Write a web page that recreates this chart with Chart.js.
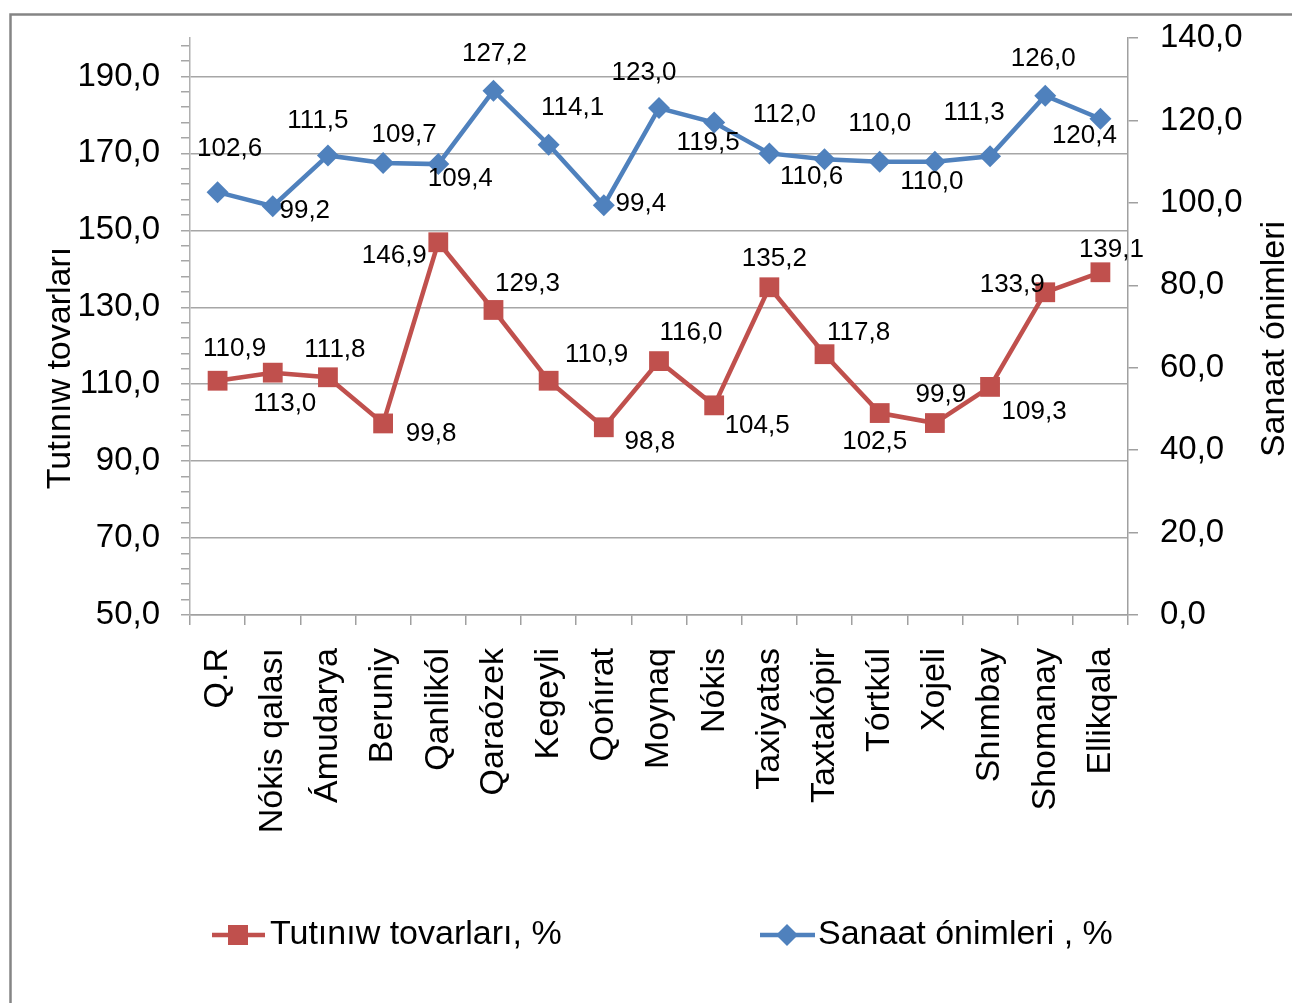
<!DOCTYPE html>
<html>
<head>
<meta charset="utf-8">
<script src="https://cdn.jsdelivr.net/npm/chart.js@4.4.1/dist/chart.umd.min.js"></script>
<style>
  html, body { margin: 0; padding: 0; background: #fff; }
</style>
</head>
<body>
<canvas id="chart" width="1292" height="1003"></canvas>
<script>
// -------------------- DATA --------------------
const districts = ['Q.R', 'Nókis qalası', 'Ámudarya', 'Beruniy', 'Qanlikól', 'Qaraózek', 'Kegeyli',
    'Qońırat', 'Moynaq', 'Nókis', 'Taxiyatas', 'Taxtakópir', 'Tórtkúl', 'Xojeli', 'Shımbay',
    'Shomanay', 'Ellikqala'];
const tobaccoGoods = [110.9, 113.0, 111.8, 99.8, 146.9, 129.3, 110.9, 98.8, 116.0, 104.5,
    135.2, 117.8, 102.5, 99.9, 109.3, 133.9, 139.1];
const industryGoods = [102.6, 99.2, 111.5, 109.7, 109.4, 127.2, 114.1, 99.4, 123.0, 119.5,
    112.0, 110.6, 110.0, 110.0, 111.3, 126.0, 120.4];
const leftMajorTicks = [50, 70, 90, 110, 130, 150, 170, 190];
const leftMinorStep = 4;
const rightTicks = [0, 20, 40, 60, 80, 100, 120, 140];

const tobaccoName = 'Tutınıw tovarları, %';
const industryName = 'Sanaat ónimleri , %';
const leftTitle = 'Tutınıw tovarları';
const rightTitle = 'Sanaat ónimleri';

// label offsets from each point (px)
const tobaccoLabelOffsets = [[17, -32], [12, 31], [7, -27], [48, 10], [-44, 14], [34, -26], [48, -26],
    [46, 15], [32, -28], [43, 20], [5, -28], [34, -21], [-5, 29], [6, -28], [44, 25], [-33, -7], [11, -22]];
const industryLabelOffsets = [[12, -43], [32, 5], [-10, -35], [21, -28], [22, 15], [1, -37], [24, -37],
    [37, -2], [-15, -35], [-6, 20], [15, -39], [-13, 18], [0, -38], [-3, 20], [-16, -43], [-2, -37], [-16, 17]];

const RED = '#C0504D';
const BLUE = '#4F81BD';
const FONT = '"Liberation Sans", Arial, sans-serif';

const fmt = v => v.toFixed(1).replace('.', ',');

Chart.defaults.font.family = FONT;
Chart.defaults.color = '#000';


// -------------------- PLUGIN: frame, labels, titles, legend --------------------
const decor = {
    id: 'decor',
    beforeDraw(chart) {
        const ctx = chart.ctx;
        ctx.save();
        ctx.fillStyle = '#fff';
        ctx.fillRect(0, 0, chart.width, chart.height);
        ctx.strokeStyle = '#858585';
        ctx.lineWidth = 2.5;
        ctx.strokeRect(10.5, 14.5, 1400, 1100);
        ctx.restore();
    },
    afterDatasetsDraw(chart) {
        const ctx = chart.ctx;
        const offsets = [tobaccoLabelOffsets, industryLabelOffsets];
        ctx.save();
        ctx.font = '26px ' + FONT;
        ctx.fillStyle = '#000';
        ctx.textAlign = 'center';
        ctx.textBaseline = 'middle';
        chart.data.datasets.forEach((ds, di) => {
            chart.getDatasetMeta(di).data.forEach((pt, i) => {
                const o = offsets[di][i];
                ctx.fillText(fmt(ds.data[i]), pt.x + o[0], pt.y + o[1]);
            });
        });
        ctx.restore();
    },
    afterDraw(chart) {
        const ctx = chart.ctx;
        ctx.save();
        // axis titles
        ctx.font = '34px ' + FONT;
        ctx.fillStyle = '#000';
        ctx.textAlign = 'center';
        ctx.textBaseline = 'alphabetic';
        ctx.save();
        ctx.translate(70, 368);
        ctx.rotate(-Math.PI / 2);
        ctx.fillText(leftTitle, 0, 0);
        ctx.restore();
        ctx.save();
        ctx.translate(1284, 339);
        ctx.rotate(-Math.PI / 2);
        ctx.fillText(rightTitle, 0, 0);
        ctx.restore();

        // legend
        const ly = 935;
        ctx.lineWidth = 4.5;
        ctx.strokeStyle = RED;
        ctx.beginPath(); ctx.moveTo(212, ly); ctx.lineTo(265, ly); ctx.stroke();
        ctx.fillStyle = RED;
        ctx.fillRect(228, ly - 10, 20, 20);
        ctx.strokeStyle = BLUE;
        ctx.beginPath(); ctx.moveTo(760, ly); ctx.lineTo(815, ly); ctx.stroke();
        ctx.fillStyle = BLUE;
        ctx.beginPath();
        ctx.moveTo(787, ly - 11); ctx.lineTo(798, ly); ctx.lineTo(787, ly + 11); ctx.lineTo(776, ly);
        ctx.closePath(); ctx.fill();
        ctx.fillStyle = '#000';
        ctx.textAlign = 'left';
        ctx.textBaseline = 'middle';
        ctx.font = '34px ' + FONT;
        ctx.fillText(tobaccoName, 270, ly);
        ctx.fillText(industryName, 818, ly);
        ctx.restore();
    }
};

// keep the plot area where the layout padding puts it
const noVPad = s => { s.paddingTop = 0; s.paddingBottom = 0; };


// -------------------- CHART --------------------
new Chart(document.getElementById('chart'), {
    type: 'line',
    data: {
        labels: districts,
        datasets: [{
            label: tobaccoName,
            data: tobaccoGoods,
            yAxisID: 'y',
            borderColor: RED,
            backgroundColor: RED,
            borderWidth: 4.5,
            pointStyle: 'rect',
            pointRadius: 14,
            pointBorderWidth: 0,
            pointBackgroundColor: RED,
            tension: 0
        }, {
            label: industryName,
            data: industryGoods,
            yAxisID: 'y1',
            borderColor: BLUE,
            backgroundColor: BLUE,
            borderWidth: 4.5,
            pointStyle: 'rectRot',
            pointRadius: 11,
            pointBorderWidth: 0,
            pointBackgroundColor: BLUE,
            tension: 0
        }]
    },
    options: {
        responsive: false,
        animation: false,
        devicePixelRatio: 1,
        layout: { padding: { top: 38, left: 0, right: 0, bottom: 0 } },
        plugins: {
            legend: { display: false },
            tooltip: { enabled: false }
        },
        scales: {
            x: {
                offset: true,
                grid: { offset: true, drawOnChartArea: false, color: '#a0a0a0', tickLength: 10, lineWidth: 1.5 },
                border: { color: '#a0a0a0', width: 1.5 },
                ticks: {
                    font: { size: 34 },
                    minRotation: 90, maxRotation: 90,
                    autoSkip: false,
                    padding: 23
                },
                afterFit: s => { s.height = 388; s.paddingLeft = 0; s.paddingRight = 0; }
            },
            y: {
                position: 'left',
                min: 50,
                max: 200,
                afterBuildTicks: s => {
                    const t = [];
                    for (let v = leftMajorTicks[0]; v < 200; v += leftMinorStep) t.push({ value: v });
                    s.ticks = t;
                },
                grid: {
                    color: c => leftMajorTicks.includes(c.tick.value) ? '#a6a6a6' : 'rgba(0,0,0,0)',
                    tickColor: '#a6a6a6',
                    tickLength: 9,
                    lineWidth: 1.5
                },
                border: { color: '#b0b0b0', width: 1.5 },
                ticks: {
                    font: { size: 33 },
                    padding: 21,
                    autoSkip: false,
                    callback: v => leftMajorTicks.includes(v) ? fmt(v) : ''
                },
                afterFit: s => { s.width = 190; noVPad(s); }
            },
            y1: {
                position: 'right',
                min: 0,
                max: 140,
                afterBuildTicks: s => { s.ticks = rightTicks.map(v => ({ value: v })); },
                grid: { drawOnChartArea: false, color: '#a0a0a0', tickLength: 10, lineWidth: 1.5 },
                border: { color: '#a0a0a0', width: 1.5 },
                ticks: {
                    font: { size: 33 },
                    padding: 22,
                    callback: v => fmt(v)
                },
                afterFit: s => { s.width = 164; noVPad(s); }
            }
        }
    },
    plugins: [decor]
});
</script>
</body>
</html>
